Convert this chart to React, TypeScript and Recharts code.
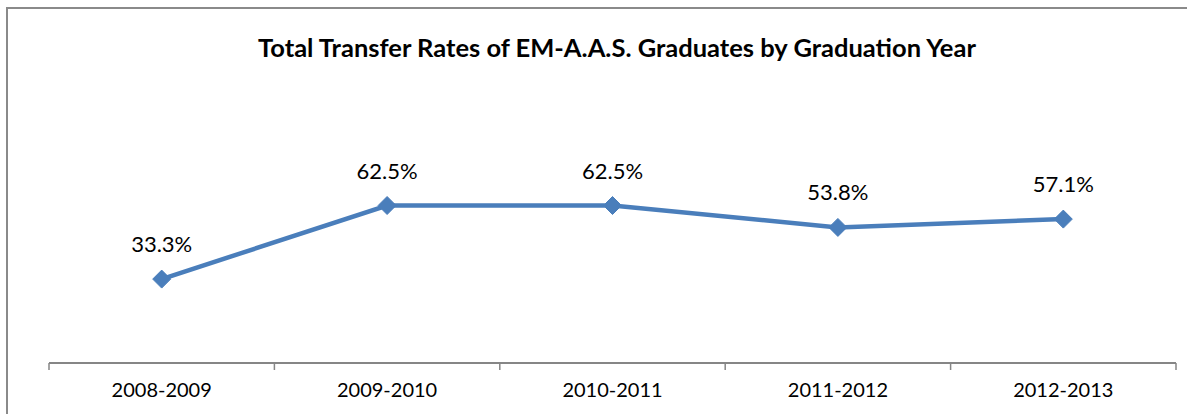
import React from "react";
import { LineChart, Line, XAxis, YAxis, LabelList } from "recharts";

const categories = ["2008-2009", "2009-2010", "2010-2011", "2011-2012", "2012-2013"];
const transferRates = [33.3, 62.5, 62.5, 53.8, 57.1];

const data = categories.map((year, i) => ({ year, rate: transferRates[i] }));

const BLUE = "#4A7EBB";
const AXIS = "#868686";
const FONT = "Lato, 'Open Sans', sans-serif";

const CHART_W = 1187;
const MARGIN = { top: 111, right: 11, left: 49, bottom: 0 };

const Diamond = (props: any) => {
  const { cx, cy } = props;
  if (cx == null || cy == null) return null;
  const r = 9;
  return (
    <polygon
      points={`${cx},${cy - r} ${cx + r},${cy} ${cx},${cy + r} ${cx - r},${cy}`}
      fill={BLUE}
      stroke={BLUE}
      strokeWidth={1}
    />
  );
};

const CategoryTick = (props: any) => {
  const { x, y, payload, index, visibleTicksCount } = props;
  const count = visibleTicksCount || categories.length;
  const half =
    payload && payload.offset
      ? payload.offset
      : (CHART_W - MARGIN.left - MARGIN.right) / count / 2;
  const axisY = y - 14;
  return (
    <g>
      <line x1={x - half} x2={x - half} y1={axisY} y2={axisY + 7} stroke={AXIS} strokeWidth={1.5} />
      {index === count - 1 && (
        <line x1={x + half} x2={x + half} y1={axisY} y2={axisY + 7} stroke={AXIS} strokeWidth={1.5} />
      )}
      <text
        x={x}
        y={y + 6}
        dy="0.71em"
        textAnchor="middle"
        fill="#000"
        fontSize={20}
        fontFamily={FONT}
      >
        {payload.value}
      </text>
    </g>
  );
};

export default function App() {
  return (
    <div style={{ position: "absolute", left: 0, top: 0, width: 1187, height: 414, background: "#fff", overflow: "hidden" }}>
      <div
        style={{
          position: "absolute",
          left: 6,
          top: 7,
          width: 1300,
          height: 500,
          borderTop: "2px solid #8a8a8a",
          borderLeft: "2px solid #8a8a8a",
        }}
      />
      <div
        style={{
          position: "absolute",
          left: 0,
          width: 1234,
          top: 32,
          textAlign: "center",
          fontFamily: FONT,
          fontWeight: 700,
          fontSize: 25.5,
          color: "#000",
          lineHeight: "30px",
        }}
      >
        Total Transfer Rates of EM-A.A.S. Graduates by Graduation Year
      </div>
      <div style={{ position: "absolute", left: 0, top: 0 }}>
        <LineChart width={CHART_W} height={414} data={data} margin={MARGIN}>
          <YAxis hide domain={[0, 100]} />
          <XAxis
            dataKey="year"
            scale="band"
            axisLine={{ stroke: AXIS, strokeWidth: 2 }}
            tickLine={false}
            tickSize={0}
            tickMargin={14}
            tick={<CategoryTick />}
            interval={0}
            height={51}
          />
          <Line
            dataKey="rate"
            stroke={BLUE}
            strokeWidth={4.5}
            dot={<Diamond />}
            activeDot={false}
            isAnimationActive={false}
          >
            <LabelList
              dataKey="rate"
              position="top"
              offset={27}
              formatter={(v: any) => `${Number(v).toFixed(1)}%`}
              style={{ fill: "#000", fontSize: 22, fontFamily: FONT }}
            />
          </Line>
        </LineChart>
      </div>
    </div>
  );
}
